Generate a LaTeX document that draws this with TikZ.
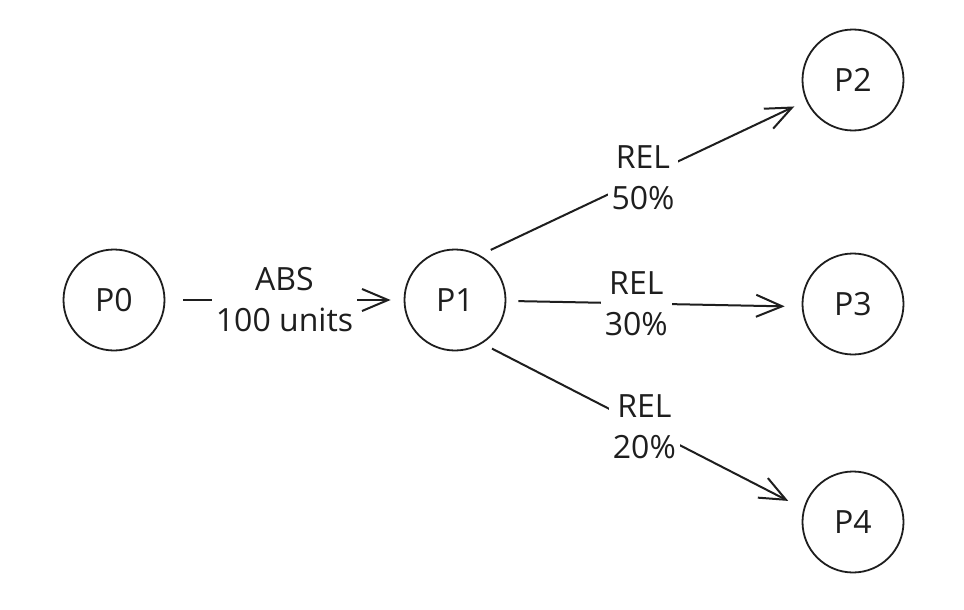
\documentclass[tikz,border=0pt]{standalone}
\usepackage{fontspec}
\setmainfont{Open Sans}
\usetikzlibrary{arrows.meta}
\definecolor{ink}{HTML}{1E1E1E}
\begin{document}
\begin{tikzpicture}[x=1pt,y=-1pt,
  pnode/.style={circle, draw=ink, line width=1.8pt, minimum size=101pt, inner sep=0pt,
    font=\fontsize{32}{41}\selectfont, text=ink},
  lbl/.style={fill=white, align=center, font=\fontsize{32}{41}\selectfont, text=ink, inner sep=4pt},
  edge/.style={draw=ink, line width=2pt, -{Straight Barb[length=26pt,width=22pt]}}]
\path[use as bounding box, fill=white] (0,0) rectangle (964,610);

\node[pnode] (P0) at (114,300) {P0};
\node[pnode] (P1) at (455,300) {P1};
\node[pnode] (P2) at (853,80) {P2};
\node[pnode] (P3) at (853,304) {P3};
\node[pnode] (P4) at (853,522) {P4};

\draw[edge, shorten <=18pt, shorten >=13pt] (P0.0) -- node[lbl, pos=0.5] (L0) {ABS\\100 units} (P1.180);
\draw[edge, shorten <=12pt, shorten >=13pt] (P1.61) -- node[lbl, pos=0.5] (L2) {REL\\50\%} (P2.204.6);
\draw[edge, shorten <=12pt, shorten >=17pt] (P1.-1.8) -- node[lbl, pos=0.44] (L3) {REL\\30\%} (P3.183.3);
\draw[edge, shorten <=11pt, shorten >=17pt] (P1.-58) -- node[lbl, pos=0.505] (L4) {REL\\20\%} (P4.165.8);
\end{tikzpicture}
\end{document}
